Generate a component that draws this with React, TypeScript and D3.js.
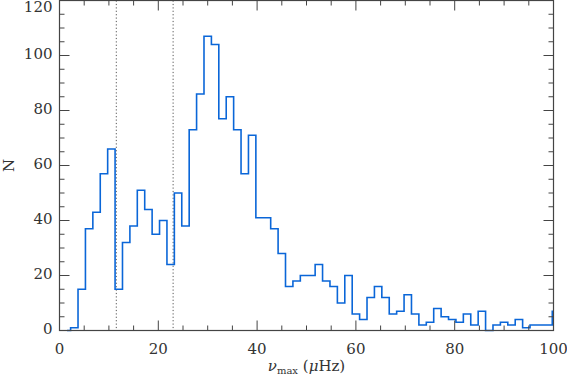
import React, { useEffect, useRef } from 'react';
import * as d3 from 'd3';

// histogram bin centres (muHz), step 1.5, and counts
const binCenters: number[] = [
  1.5, 3, 4.5, 6, 7.5, 9, 10.5, 12, 13.5, 15, 16.5, 18, 19.5, 21, 22.5, 24, 25.5, 27, 28.5,
  30, 31.5, 33, 34.5, 36, 37.5, 39, 40.5, 42, 43.5, 45, 46.5, 48, 49.5, 51, 52.5, 54, 55.5,
  57, 58.5, 60, 61.5, 63, 64.5, 66, 67.5, 69, 70.5, 72, 73.5, 75, 76.5, 78, 79.5, 81, 82.5,
  84, 85.5, 87, 88.5, 90, 91.5, 93, 94.5, 96, 97.5, 99, 100.5,
];
const counts: number[] = [
  0, 1, 15, 37, 43, 57, 66, 15, 32, 38, 51, 44, 35, 40, 24, 50, 38, 73, 86,
  107, 104, 77, 85, 73, 57, 71, 41, 41, 37, 28, 16, 18, 20, 20, 24, 18, 16,
  10, 20, 6, 4, 12, 16, 12, 6, 7, 13, 6, 2, 3, 8, 5, 4, 3, 6,
  2, 7, 0, 2, 3, 2, 4, 1, 2, 2, 2, 7,
];
const markers: number[] = [11.5, 23];
const xTicks: number[] = [0, 20, 40, 60, 80, 100];
const yTicks: number[] = [0, 20, 40, 60, 80, 100, 120];

const W = 567, H = 376;

const App = () => {
  const ref = useRef<SVGSVGElement>(null);

  useEffect(() => {
    const svg = d3.select(ref.current);
    svg.selectAll('*').remove();

    const margin = { top: 0.5, right: 13.5, bottom: 45.5, left: 59.5 };
    const x = d3.scaleLinear().domain([0, 100]).range([margin.left, W - margin.right]);
    const y = d3.scaleLinear().domain([0, 120]).range([H - margin.bottom, margin.top]);
    const font = 'DejaVu Serif';
    const axisColor = '#444';
    const textColor = '#333';

    svg.append('defs').append('clipPath').attr('id', 'plot-clip')
      .append('rect')
      .attr('x', x(0)).attr('y', y(120) - 1)
      .attr('width', x(100) - x(0)).attr('height', y(0) - y(120) + 4);

    // dotted reference lines
    svg.selectAll('line.marker')
      .data(markers)
      .enter()
      .append('line')
      .attr('x1', d => x(d)).attr('x2', d => x(d))
      .attr('y1', y(120)).attr('y2', y(0))
      .attr('stroke', '#555')
      .attr('stroke-width', 1)
      .attr('stroke-dasharray', '1.2,2.2');

    // step histogram (IDL psym=10 style)
    const pts: [number, number][] = [];
    const half = 0.75;
    binCenters.forEach((c, i) => {
      const left = i === 0 ? c : c - half;
      const right = i === binCenters.length - 1 ? c : c + half;
      pts.push([left, counts[i]]);
      pts.push([right, counts[i]]);
    });
    const line = d3.line<[number, number]>().x(d => x(d[0])).y(d => y(d[1]));
    svg.append('path')
      .attr('d', line(pts))
      .attr('fill', 'none')
      .attr('stroke', '#0a66d8')
      .attr('stroke-width', 1.6)
      .attr('clip-path', 'url(#plot-clip)');

    // frame
    svg.append('rect')
      .attr('x', x(0)).attr('y', y(120))
      .attr('width', x(100) - x(0)).attr('height', y(0) - y(120))
      .attr('fill', 'none')
      .attr('stroke', axisColor)
      .attr('stroke-width', 1.2);

    const g = svg.append('g').attr('stroke', axisColor).attr('stroke-width', 1);

    // x ticks (bottom and top), minor every 5
    d3.range(0, 100.1, 5).forEach(v => {
      const len = v % 20 === 0 ? 10 : 5;
      g.append('line').attr('x1', x(v)).attr('x2', x(v)).attr('y1', y(0)).attr('y2', y(0) - len);
      g.append('line').attr('x1', x(v)).attr('x2', x(v)).attr('y1', y(120)).attr('y2', y(120) + len);
    });
    // y ticks (left and right), minor every 5
    d3.range(0, 120.1, 5).forEach(v => {
      const len = v % 20 === 0 ? 10 : 5;
      g.append('line').attr('x1', x(0)).attr('x2', x(0) + len).attr('y1', y(v)).attr('y2', y(v));
      g.append('line').attr('x1', x(100)).attr('x2', x(100) - len).attr('y1', y(v)).attr('y2', y(v));
    });

    svg.selectAll('text.xt')
      .data(xTicks)
      .enter()
      .append('text')
      .attr('x', d => x(d))
      .attr('y', y(0) + 23)
      .attr('text-anchor', 'middle')
      .attr('font-family', font)
      .attr('font-size', 15)
      .attr('fill', textColor)
      .text(d => d);

    svg.selectAll('text.yt')
      .data(yTicks)
      .enter()
      .append('text')
      .attr('x', x(0) - 7)
      .attr('y', d => Math.max(y(d) + 3, 12))
      .attr('text-anchor', 'end')
      .attr('font-family', font)
      .attr('font-size', 15)
      .attr('fill', textColor)
      .text(d => d);

    svg.append('text')
      .attr('transform', `translate(14,${(y(0) + y(120)) / 2}) rotate(-90)`)
      .attr('text-anchor', 'middle')
      .attr('font-family', font)
      .attr('font-size', 15)
      .attr('fill', textColor)
      .text('N');

    const xl = svg.append('text')
      .attr('x', (x(0) + x(100)) / 2)
      .attr('y', H - 5)
      .attr('text-anchor', 'middle')
      .attr('font-family', font)
      .attr('font-size', 15)
      .attr('fill', textColor);
    xl.append('tspan').attr('font-style', 'italic').text('ν');
    xl.append('tspan').attr('font-size', 10).attr('dy', 3).text('max');
    xl.append('tspan').attr('dy', -3).text(' (');
    xl.append('tspan').attr('font-style', 'italic').text('μ');
    xl.append('tspan').text('Hz)');
  }, []);

  return (
    <svg ref={ref} width={W} height={H} style={{ position: 'absolute', left: 0, top: 0, background: '#fff' }} />
  );
};

export default App;
